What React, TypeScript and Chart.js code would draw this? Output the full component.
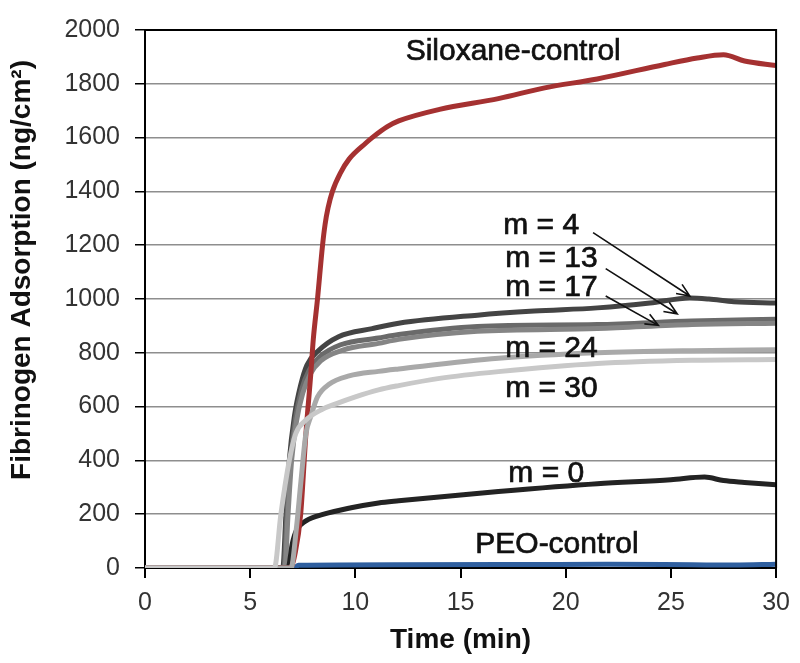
import { useEffect, useRef } from 'react';
import { Chart, registerables } from 'chart.js';
Chart.register(...registerables);

// ---- data (time in min, adsorption in ng/cm²) ----
const T_SILOXANE = [0, 6.9, 7.15, 7.4, 7.65, 7.88, 8.0, 8.2, 8.44, 8.56, 8.7, 8.91, 9.3, 9.7, 10.5, 10.8, 11.5, 12.06, 14, 16.8, 19, 21.5, 24.7, 26.25, 27.5, 28.5, 30];
const V_SILOXANE = [0, 0, 60, 200, 500, 720, 850, 1000, 1200, 1277, 1338, 1400, 1470, 1520, 1580, 1600, 1640, 1662, 1705, 1745, 1785, 1818, 1872, 1896, 1908, 1885, 1868];

const T_M4 = [0, 6.55, 6.7, 6.86, 7.1, 7.4, 7.7, 8.2, 9.2, 10.8, 12.06, 15.8, 18.5, 21.5, 24, 25.9, 26.8, 28, 30];
const V_M4 = [0, 0, 200, 400, 563, 680, 755, 805, 860, 890, 910, 940, 955, 967, 985, 1004, 1000, 990, 985];

const T_M13 = [0, 6.6, 6.75, 6.92, 7.15, 7.45, 7.8, 8.3, 9.3, 11.1, 12.06, 15.8, 21.5, 26, 30];
const V_M13 = [0, 0, 200, 400, 555, 665, 735, 785, 830, 855, 868, 898, 905, 918, 925];

const T_M17 = [0, 6.65, 6.8, 6.97, 7.2, 7.5, 7.85, 8.35, 9.4, 11.1, 12.06, 15.8, 21.5, 26, 30];
const V_M17 = [0, 0, 200, 400, 545, 650, 720, 770, 810, 835, 850, 880, 890, 905, 910];

const T_M24 = [0, 6.94, 7.2, 7.41, 7.65, 7.88, 8.2, 8.75, 9.7, 11.1, 12.06, 16.8, 21.5, 26, 30];
const V_M24 = [0, 0, 150, 320, 500, 563, 636, 683, 714, 731, 740, 780, 800, 808, 811];

const T_M30 = [0, 6.15, 6.46, 6.86, 7.17, 7.65, 8.43, 9.07, 10, 11.1, 12.06, 14, 16.8, 21.5, 26, 30];
const V_M30 = [0, 0, 200, 400, 500, 550, 590, 610, 636, 662, 678, 705, 730, 760, 772, 775];

const T_M0 = [0, 6.8, 7.0, 7.2, 7.65, 8.5, 9.8, 11.1, 12.06, 16.8, 21.5, 25, 26.6, 27.5, 28.5, 30];
const V_M0 = [0, 0, 90, 140, 175, 200, 224, 242, 250, 284, 313, 328, 338, 325, 318, 309];

const T_PEO = [0, 7.1, 7.3, 12, 18, 22, 26, 28, 30];
const V_PEO = [0, 0, 10, 12, 13, 14, 12, 11, 14];

const X_TICKS = [0, 5, 10, 15, 20, 25, 30];
const Y_TICKS = [0, 200, 400, 600, 800, 1000, 1200, 1400, 1600, 1800, 2000];

// annotations (data coords: left x, baseline y)
const LABEL_TEXT = ['Siloxane-control', 'm = 4', 'm = 13', 'm = 17', 'm = 24', 'm = 30', 'm = 0', 'PEO-control'];
const LABEL_X = [12.39, 17.03, 17.12, 17.12, 17.12, 17.12, 17.27, 15.7];
const LABEL_Y = [1887, 1240, 1120, 1011, 785, 636, 320, 55];

// arrows (data coords)
const ARROW_X0 = [21.3, 21.9, 21.9];
const ARROW_Y0 = [1247, 1113, 1011];
const ARROW_X1 = [25.9, 25.3, 24.4];
const ARROW_Y1 = [1011, 945, 902];

const zip = (t: number[], v: number[]) => t.map((x, i) => ({ x, y: v[i] }));

const FONT = 'Arial, "Liberation Sans", sans-serif';

const overlay = {
  id: 'overlay',
  afterDatasetsDraw(chart: any) {
    const { ctx, chartArea, scales } = chart;
    const xs = scales.x;
    const ys = scales.y;
    ctx.save();
    // top & right border
    ctx.strokeStyle = '#000';
    ctx.lineWidth = 2;
    ctx.beginPath();
    ctx.moveTo(chartArea.left, chartArea.top);
    ctx.lineTo(chartArea.right, chartArea.top);
    ctx.lineTo(chartArea.right, chartArea.bottom);
    ctx.stroke();

    // labels
    ctx.fillStyle = '#111';
    ctx.strokeStyle = '#111';
    ctx.lineWidth = 0.7;
    ctx.font = `30px ${FONT}`;
    ctx.textAlign = 'left';
    ctx.textBaseline = 'alphabetic';
    LABEL_TEXT.forEach((txt, i) => {
      const px = xs.getPixelForValue(LABEL_X[i]);
      const py = ys.getPixelForValue(LABEL_Y[i]);
      ctx.fillText(txt, px, py);
      ctx.strokeText(txt, px, py);
    });

    // arrows
    ctx.strokeStyle = '#111';
    ctx.lineWidth = 1.6;
    ARROW_X0.forEach((_, i) => {
      const x0 = xs.getPixelForValue(ARROW_X0[i]);
      const y0 = ys.getPixelForValue(ARROW_Y0[i]);
      const x1 = xs.getPixelForValue(ARROW_X1[i]);
      const y1 = ys.getPixelForValue(ARROW_Y1[i]);
      const a = Math.atan2(y1 - y0, x1 - x0);
      const h = 14;
      ctx.beginPath();
      ctx.moveTo(x0, y0);
      ctx.lineTo(x1, y1);
      ctx.moveTo(x1 - h * Math.cos(a - 0.4), y1 - h * Math.sin(a - 0.4));
      ctx.lineTo(x1, y1);
      ctx.lineTo(x1 - h * Math.cos(a + 0.4), y1 - h * Math.sin(a + 0.4));
      ctx.stroke();
    });

    // axis titles
    ctx.fillStyle = '#111';
    ctx.font = `bold 28px ${FONT}`;
    ctx.textAlign = 'center';
    ctx.textBaseline = 'middle';
    ctx.fillText('Time (min)', (chartArea.left + chartArea.right) / 2, 640);
    ctx.translate(22, 270);
    ctx.rotate(-Math.PI / 2);
    ctx.fillText('Fibrinogen Adsorption (ng/cm²)', 0, 0);
    ctx.restore();
  },
};

export default function App() {
  const ref = useRef<HTMLCanvasElement>(null);
  useEffect(() => {
    if (!ref.current) return;
    const line = (label: string, t: number[], v: number[], color: string, order: number) => ({
      label,
      data: zip(t, v),
      borderColor: color,
      backgroundColor: color,
      borderWidth: 5,
      pointRadius: 0,
      cubicInterpolationMode: 'monotone' as const,
      order,
    });
    const chart = new Chart(ref.current, {
      type: 'line',
      data: {
        datasets: [
          line('PEO-control', T_PEO, V_PEO, '#2f5f9f', 8),
          line('m = 4', T_M4, V_M4, '#444444', 7),
          line('m = 13', T_M13, V_M13, '#6a6a6a', 6),
          line('m = 17', T_M17, V_M17, '#858585', 5),
          line('m = 0', T_M0, V_M0, '#232323', 4),
          line('Siloxane-control', T_SILOXANE, V_SILOXANE, '#a53131', 3),
          line('m = 24', T_M24, V_M24, '#a9a9a9', 2),
          line('m = 30', T_M30, V_M30, '#c8c8c8', 1),
        ],
      },
      options: {
        animation: false,
        responsive: false,
        layout: { padding: { top: 18, right: 20, left: 0, bottom: 0 } },
        plugins: { legend: { display: false }, tooltip: { enabled: false } },
        scales: {
          x: {
            type: 'linear',
            min: 0,
            max: 30,
            afterBuildTicks: (s: any) => { s.ticks = X_TICKS.map((value) => ({ value })); },
            afterFit: (s: any) => { s.height = 95; },
            ticks: { font: { size: 25, family: FONT }, color: '#333', padding: 10, maxRotation: 0, callback: (v: any) => String(v) },
            grid: { drawOnChartArea: false, drawTicks: true, tickLength: 10, tickColor: '#000', lineWidth: 2 },
            border: { color: '#000', width: 2 },
          },
          y: {
            min: 0,
            max: 2000,
            afterBuildTicks: (s: any) => { s.ticks = Y_TICKS.map((value) => ({ value })); },
            afterFit: (s: any) => { s.width = 145; },
            ticks: { font: { size: 25, family: FONT }, color: '#333', padding: 15, callback: (v: any) => String(v) },
            grid: { color: '#8e8e8e', lineWidth: 1.5, tickLength: 10, tickColor: '#000' },
            border: { color: '#000', width: 2 },
          },
        },
      },
      plugins: [overlay],
    });
    return () => chart.destroy();
  }, []);
  return (
    <div style={{ position: 'absolute', left: 0, top: 0, width: 800, height: 663, background: '#fff' }}>
      <canvas ref={ref} width={800} height={663} />
    </div>
  );
}
